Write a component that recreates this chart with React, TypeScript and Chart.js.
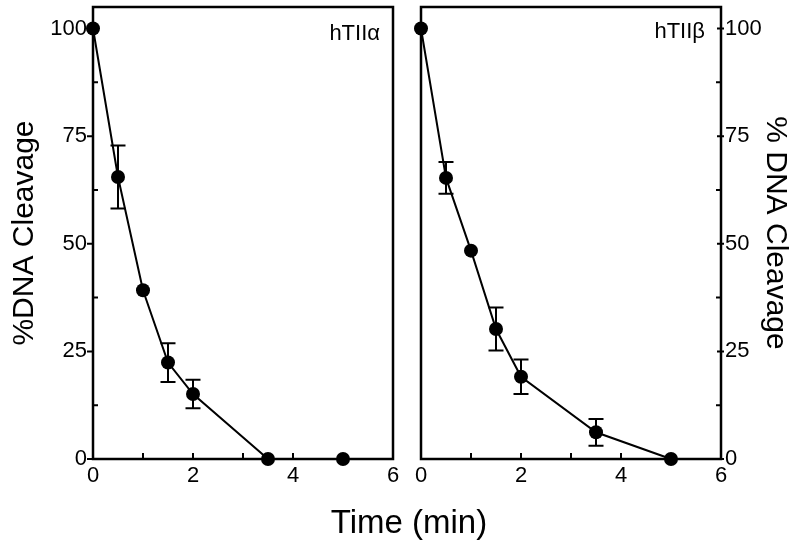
import React, { useEffect, useRef } from "react";
import { Chart, registerables } from "chart.js";
Chart.register(...registerables);

const TIME = [0, 0.5, 1, 1.5, 2, 3.5, 5];
const ALPHA_VALUES = [100, 65.5, 39.2, 22.4, 15.1, 0, 0];
const ALPHA_ERRORS = [0, 7.3, 0, 4.5, 3.3, 0, 0];
const BETA_VALUES = [100, 65.3, 48.4, 30.2, 19.1, 6.2, 0];
const BETA_ERRORS = [0, 3.7, 0, 5.0, 4.0, 3.1, 0];
const X_TICKS = [0, 1, 2, 3, 4, 5, 6];
const X_LABELS = [0, 2, 4, 6];
const Y_TICKS = [0, 12.5, 25, 37.5, 50, 62.5, 75, 87.5, 100];
const Y_LABELS = [0, 25, 50, 75, 100];
const Y_TITLE_LEFT = "%DNA Cleavage";
const Y_TITLE_RIGHT = "% DNA Cleavage";
const X_TITLE = "Time (min)";
const PANEL_ALPHA = "hTIIα";
const PANEL_BETA = "hTIIβ";

const FONT = "'Liberation Sans', Arial, sans-serif";

function makeChart(
  canvas: HTMLCanvasElement,
  side: "left" | "right",
  values: number[],
  errors: number[],
  panelLabel: string
) {
  const yId = "y";
  const framePlugin = {
    id: "frame",
    beforeDatasetsDraw(chart: any) {
      const { ctx, chartArea } = chart;
      const xs = chart.scales.x;
      const ys = chart.scales[yId];
      ctx.save();
      ctx.strokeStyle = "#000";
      ctx.lineWidth = 2.5;
      ctx.strokeRect(chartArea.left, chartArea.top, chartArea.right - chartArea.left, chartArea.bottom - chartArea.top);
      ctx.lineWidth = 2;
      ctx.beginPath();
      for (const v of X_TICKS) {
        const px = xs.getPixelForValue(v);
        ctx.moveTo(px, chartArea.bottom);
        ctx.lineTo(px, chartArea.bottom - 6);
      }
      for (const v of Y_TICKS) {
        const py = ys.getPixelForValue(v);
        const major = Y_LABELS.includes(v);
        if (side === "left") {
          const ax = chartArea.left;
          if (major) { ctx.moveTo(ax - 6, py); ctx.lineTo(ax, py); }
          else { ctx.moveTo(ax, py); ctx.lineTo(ax + 5, py); }
        } else {
          const ax = chartArea.right;
          if (major) { ctx.moveTo(ax - 4, py); ctx.lineTo(ax + 3, py); }
          else { ctx.moveTo(ax - 5, py); ctx.lineTo(ax, py); }
        }
      }
      ctx.stroke();
      ctx.fillStyle = "#000";
      ctx.font = `22px ${FONT}`;
      ctx.textAlign = "right";
      ctx.textBaseline = "alphabetic";
      ctx.fillText(panelLabel, side === "left" ? chartArea.right - 13 : chartArea.right - 16, side === "left" ? 40 : 38);
      ctx.restore();
    },
  };
  const errorPlugin = {
    id: "errbars",
    afterDatasetsDraw(chart: any) {
      const { ctx } = chart;
      const xs = chart.scales.x;
      const ys = chart.scales[yId];
      ctx.save();
      ctx.strokeStyle = "#000";
      ctx.lineWidth = 2;
      ctx.beginPath();
      TIME.forEach((t, i) => {
        const e = errors[i];
        if (!e) return;
        const px = xs.getPixelForValue(t);
        const top = ys.getPixelForValue(values[i] + e);
        const bot = ys.getPixelForValue(values[i] - e);
        ctx.moveTo(px, top); ctx.lineTo(px, bot);
        ctx.moveTo(px - 7.5, top); ctx.lineTo(px + 7.5, top);
        ctx.moveTo(px - 7.5, bot); ctx.lineTo(px + 7.5, bot);
      });
      ctx.stroke();
      ctx.restore();
    },
  };

  return new Chart(canvas, {
    type: "line",
    data: {
      datasets: [
        {
          data: TIME.map((t, i) => ({ x: t, y: values[i] })),
          borderColor: "#000",
          backgroundColor: "#000",
          borderWidth: 2,
          pointRadius: 7,
          pointBackgroundColor: "#000",
          pointBorderWidth: 0,
          tension: 0,
          clip: false as any,
        },
      ],
    },
    options: {
      animation: false,
      responsive: false,
      devicePixelRatio: 1,
      layout: {
        padding: side === "left" ? { left: 0, right: 7, top: 7, bottom: 0 } : { left: 21, right: 0, top: 7, bottom: 0 },
      },
      plugins: { legend: { display: false }, tooltip: { enabled: false }, title: { display: false } },
      scales: {
        x: {
          type: "linear",
          min: 0,
          max: 6,
          grid: { display: false, drawTicks: false },
          border: { display: false },
          afterBuildTicks: (s: any) => { s.ticks = X_TICKS.map((v) => ({ value: v })); },
          afterFit: (s: any) => { s.height = 91; s.paddingLeft = 0; s.paddingRight = 0; },
          ticks: {
            autoSkip: false,
            maxRotation: 0,
            padding: 4,
            color: "#000",
            font: { family: FONT, size: 22 },
            callback: (v: any) => (X_LABELS.includes(Number(v)) ? String(v) : ""),
          },
        },
        y: {
          type: "linear",
          position: side,
          min: 0,
          max: 105,
          grid: { display: false, drawTicks: false },
          border: { display: false },
          afterBuildTicks: (s: any) => { s.ticks = Y_TICKS.map((v) => ({ value: v })); },
          afterFit: (s: any) => { s.width = side === "left" ? 93 : 79; s.paddingTop = 0; s.paddingBottom = 0; },
          title: {
            display: true,
            text: side === "left" ? Y_TITLE_LEFT : Y_TITLE_RIGHT,
            color: "#000",
            font: { family: FONT, size: 30 },
            padding: side === "left" ? { top: 7, bottom: 0 } : { top: 7, bottom: 0 },
          },
          ticks: {
            autoSkip: false,
            padding: side === "left" ? 6 : 4,
            color: "#000",
            font: { family: FONT, size: 22 },
            callback: (v: any) => (Y_LABELS.includes(Number(v)) ? String(v) : ""),
          },
        },
      },
    },
    plugins: [framePlugin, errorPlugin],
  } as any);
}

export default function App() {
  const leftRef = useRef<HTMLCanvasElement>(null);
  const rightRef = useRef<HTMLCanvasElement>(null);
  useEffect(() => {
    const a = makeChart(leftRef.current!, "left", ALPHA_VALUES, ALPHA_ERRORS, PANEL_ALPHA);
    const b = makeChart(rightRef.current!, "right", BETA_VALUES, BETA_ERRORS, PANEL_BETA);
    return () => { a.destroy(); b.destroy(); };
  }, []);
  return (
    <div style={{ position: "fixed", left: 0, top: 0, width: 800, height: 550, background: "#fff" }}>
      <canvas ref={leftRef} width={400} height={550} style={{ position: "absolute", left: 0, top: 0 }} />
      <canvas ref={rightRef} width={400} height={550} style={{ position: "absolute", left: 400, top: 0 }} />
      <div
        style={{
          position: "absolute",
          left: 0,
          width: 818,
          top: 502,
          textAlign: "center",
          fontFamily: FONT,
          fontSize: 33,
          lineHeight: "40px",
          color: "#000",
        }}
      >
        {X_TITLE}
      </div>
    </div>
  );
}
